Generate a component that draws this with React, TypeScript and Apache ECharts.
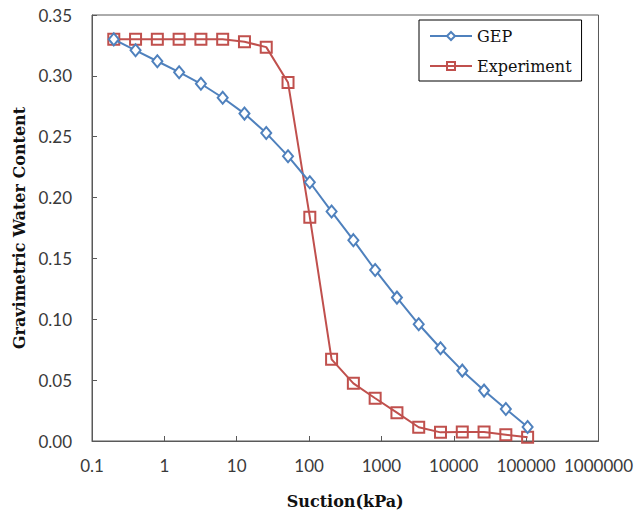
import React, { useEffect, useRef } from "react";
import * as echarts from "echarts";

const suction = [0.2, 0.4, 0.8, 1.6, 3.2, 6.4, 12.8, 25.6, 51.2, 102.4, 204.8, 409.6, 819.2, 1638.4, 3276.8, 6553.6, 13107.2, 26214.4, 52428.8, 104857.6];
const gep = [0.330, 0.321, 0.312, 0.303, 0.2935, 0.282, 0.269, 0.253, 0.234, 0.2126, 0.1885, 0.165, 0.1405, 0.1178, 0.0959, 0.0762, 0.0578, 0.0414, 0.0263, 0.0115];
const experiment = [0.330, 0.330, 0.330, 0.330, 0.330, 0.330, 0.328, 0.3236, 0.2945, 0.1839, 0.0671, 0.0474, 0.0351, 0.0233, 0.0113, 0.0071, 0.0074, 0.0074, 0.0052, 0.0030];
const seriesNames = ["GEP", "Experiment"];
const xTitle = "Suction(kPa)";
const yTitle = "Gravimetric Water Content";

export default function App() {
  const ref = useRef<HTMLDivElement>(null);
  useEffect(() => {
    const chart = echarts.init(ref.current!, null, { renderer: "svg" });
    const axisColor = "#595959";
    const labelFont = { fontFamily: "Lato", fontSize: 17, color: "#3a3a3a" };
    const titleFont = { fontFamily: "DejaVu Serif", fontWeight: "bold" as const, fontSize: 16, color: "#111" };
    chart.setOption({
      animation: false,
      backgroundColor: "#fff",
      grid: { left: 92, right: 36, top: 15, bottom: 80, show: true, borderColor: axisColor, borderWidth: 1 },
      legend: {
        orient: "vertical",
        left: 419,
        top: 20,
        data: seriesNames,
        borderColor: "#000",
        borderWidth: 1,
        padding: [8, 10, 7, 10],
        itemWidth: 42,
        itemHeight: 10,
        itemGap: 14,
        textStyle: { fontFamily: "DejaVu Serif", fontSize: 16, color: "#111", width: 108 },
      },
      xAxis: {
        type: "log",
        logBase: 10,
        min: 0.1,
        max: 1000000,
        name: xTitle,
        nameLocation: "middle",
        nameGap: 52,
        nameTextStyle: titleFont,
        axisLine: { show: true, lineStyle: { color: axisColor, width: 1 } },
        axisTick: { show: true, inside: true, length: 5, lineStyle: { color: axisColor } },
        minorTick: { show: false },
        splitLine: { show: false },
        axisLabel: {
          ...labelFont,
          margin: 16,
          formatter: (v: number) => String(Number(v.toPrecision(6))),
        },
      },
      yAxis: {
        type: "value",
        min: 0,
        max: 0.35,
        interval: 0.05,
        name: yTitle,
        nameLocation: "middle",
        nameGap: 64,
        nameRotate: 90,
        nameTextStyle: titleFont,
        axisLine: { show: true, lineStyle: { color: axisColor, width: 1 } },
        axisTick: { show: true, inside: true, length: 5, lineStyle: { color: axisColor } },
        splitLine: { show: false },
        axisLabel: { ...labelFont, margin: 20, formatter: (v: number) => v.toFixed(2) },
      },
      series: [
        {
          name: seriesNames[0],
          type: "line",
          data: suction.map((x, i) => [x, gep[i]]),
          symbol: "diamond",
          symbolSize: [10, 12],
          showAllSymbol: true,
          lineStyle: { color: "#4F81BD", width: 2 },
          itemStyle: { color: "#fff", borderColor: "#4F81BD", borderWidth: 2 },
          z: 3,
        },
        {
          name: seriesNames[1],
          type: "line",
          data: suction.map((x, i) => [x, experiment[i]]),
          symbol: "rect",
          symbolSize: 11,
          showAllSymbol: true,
          lineStyle: { color: "#C0504D", width: 2 },
          itemStyle: { color: "rgba(255,255,255,0)", borderColor: "#C0504D", borderWidth: 2 },
          z: 2,
        },
      ],
    });
    return () => chart.dispose();
  }, []);
  return <div ref={ref} style={{ width: 636, height: 521, position: "absolute", left: 0, top: 0 }} />;
}
